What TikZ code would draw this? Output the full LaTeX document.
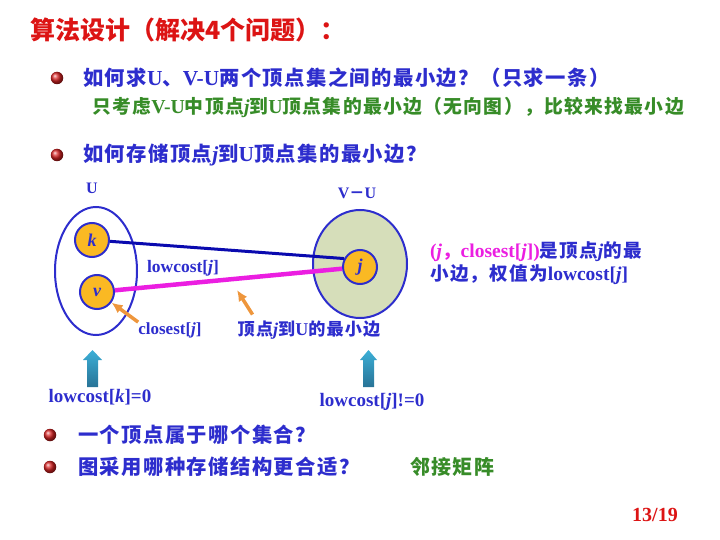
\documentclass[tikz,border=0pt]{standalone}
\usepackage{fontspec}
\setmainfont{Liberation Serif}
\newfontfamily\cjk[LetterSpace=7,Scale=0.95]{Noto Sans CJK SC}
\newfontfamily\cjkhei{Noto Sans CJK SC}
\usetikzlibrary{positioning,shapes.geometric,arrows.meta}
\definecolor{zhblue}{RGB}{45,45,205}
\definecolor{zhgreen}{RGB}{55,140,40}
\definecolor{zhred}{RGB}{220,20,20}
\definecolor{vorange}{RGB}{250,185,35}
\definecolor{setfill}{RGB}{214,222,186}
\definecolor{edgeblue}{RGB}{10,10,175}
\definecolor{edgemag}{RGB}{235,30,225}
\definecolor{arroworange}{RGB}{238,150,60}
\definecolor{tealtop}{RGB}{60,175,215}
\definecolor{tealbot}{RGB}{40,115,150}
\definecolor{ballred}{RGB}{215,35,35}
\newcommand{\zh}[1]{{\cjk #1}}

\begin{document}
\begin{tikzpicture}[>=latex, x=1pt, y=-1pt,
  every node/.style={inner sep=0pt},
  qline/.style={anchor=west, text=zhblue, font=\fontsize{21.4}{24}\selectfont\bfseries},
  hint/.style={anchor=west, text=zhgreen, font=\fontsize{19.8}{24}\selectfont\bfseries},
  lbl/.style={text=zhblue, font=\fontsize{18}{20}\selectfont\bfseries},
  vset/.style={ellipse, draw=zhblue, line width=2pt},
  vtx/.style={circle, draw=zhblue, line width=2pt, fill=vorange, minimum size=34pt,
    text=zhblue, font=\fontsize{18}{18}\selectfont\bfseries\itshape},
  bul/.style={circle, shade, ball color=ballred, minimum size=12.5pt},
  tree edge/.style={draw=edgeblue, line width=3pt},
  pick edge/.style={draw=edgemag, line width=4.5pt},
  pointer/.style={-{Latex[length=11pt,width=10pt]}, draw=arroworange, line width=3.5pt},
  upar/.style={top color=tealtop, bottom color=tealbot}]
\useasboundingbox (0,0) rectangle (720,540);

% Questions
\node[anchor=west, text=zhred, font=\fontsize{25}{28}\selectfont\cjkhei\bfseries] (title) at (30,30) {算法设计（解决4个问题）：};
\node[bul] (b1) at (57,78) {};
\node[qline] (q1) at (83,78) {\zh{如何求}U\zh{、}V-U\zh{两个顶点集之间的最小边？（只求一条）}};
\node[hint] (h1) at (92,107) {\zh{只考虑}V-U\zh{中顶点}\textit{j}\zh{到}U\zh{顶点集的最小边（无向图），比较来找最小边}};
\node[bul] (b2) at (57,155) {};
\node[qline] (q2) at (83,155) {\zh{如何存储顶点}\textit{j}\zh{到}U\zh{顶点集的最小边？}};

% Vertex sets
\node[vset, minimum width=82pt, minimum height=128pt] (U) at (96,271) {};
\node[vset, fill=setfill, minimum width=94pt, minimum height=108pt] (VU) at (360,264) {};
\node[lbl, font=\fontsize{16}{18}\selectfont\bfseries] (Ulbl) at (92,188) {U};
\node[lbl, font=\fontsize{16}{18}\selectfont\bfseries] (VUlbl) at (357,193) {V\zh{－}U};
\node[vtx] (k) at (92,240) {k};
\node[vtx] (v) at (97,292) {v};
\node[vtx] (j) at (360,267) {j};
\draw[tree edge] (k) -- (j.152);
\draw[pick edge] (v) -- (j);

% Labels and pointers
\node[lbl, font=\fontsize{17.5}{20}\selectfont\bfseries] (lc) at (183,268) {lowcost[\textit{j}]};
\node[lbl, font=\fontsize{17}{20}\selectfont\bfseries] (cl) at (170,330) {closest[\textit{j}]};
\node[lbl] (tomin) at (309,330) {\zh{顶点}\textit{j}\zh{到}U\zh{的最小边}};
\draw[pointer] (cl.north west) -- (v);
\coordinate (tip) at (237,290);
\draw[pointer] ([xshift=15pt,yshift=6pt]tomin.north west) -- (tip);
\node[lbl, anchor=west, font=\fontsize{19.5}{22}\selectfont\bfseries] (pair) at (430,252)
  {\textcolor{edgemag}{(\textit{j}\zh{，}closest[\textit{j}])}\zh{是顶点}\textit{j}\zh{的最}};
\node[lbl, anchor=west, font=\fontsize{19.5}{22}\selectfont\bfseries] (weight) at (430,275)
  {\zh{小边，权值为}lowcost[\textit{j}]};

% lowcost values
\shade[upar] (87,387) -- (87,360) -- (83,360) -- (92.5,350) -- (102,360) -- (98,360) -- (98,387) -- cycle;
\shade[upar] (363,387) -- (363,360) -- (360,360) -- (368.5,350) -- (377,360) -- (374,360) -- (374,387) -- cycle;
\node[lbl, font=\fontsize{19}{22}\selectfont\bfseries] (lck) at (100,397) {lowcost[\textit{k}]=0};
\node[lbl, font=\fontsize{19}{22}\selectfont\bfseries] (lcj) at (372,402) {lowcost[\textit{j}]!=0};

% More questions
\node[bul] (b3) at (50,435) {};
\node[qline] (q3) at (78,435) {\zh{一个顶点属于哪个集合？}};
\node[bul] (b4) at (50,467) {};
\node[qline] (q4) at (78,467) {\zh{图采用哪种存储结构更合适？}};
\node[hint, font=\fontsize{21}{24}\selectfont\bfseries] (adj) at (410,467) {\zh{邻接矩阵}};
\node[text=zhred, font=\fontsize{20}{22}\selectfont\bfseries] (page) at (655,515) {13/19};
\end{tikzpicture}
\end{document}
